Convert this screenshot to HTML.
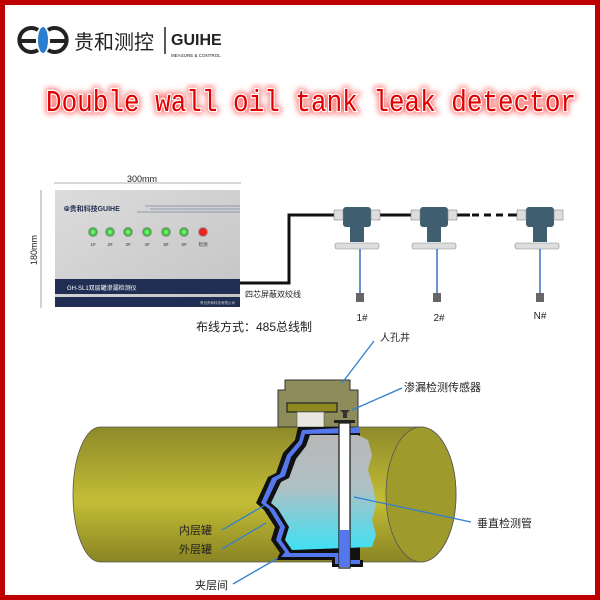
<!DOCTYPE html>
<html><head><meta charset="utf-8"><style>
body{margin:0;width:600px;height:600px;overflow:hidden;background:#fff}
svg{display:block}
text{font-family:"Liberation Sans","Noto Sans CJK SC",sans-serif}
text.ttl{font-family:"Liberation Mono",monospace}
</style></head><body>
<svg width="600" height="600" viewBox="0 0 600 600" xmlns="http://www.w3.org/2000/svg">
<defs>
<linearGradient id="tank" x1="0" y1="0" x2="0" y2="1">
<stop offset="0" stop-color="#8e8a2a"/><stop offset="0.55" stop-color="#c3bd35"/><stop offset="1" stop-color="#8a8424"/></linearGradient>
<linearGradient id="liq" x1="0" y1="0" x2="0" y2="1">
<stop offset="0" stop-color="#b8b8b8"/><stop offset="0.45" stop-color="#b0c0c4"/><stop offset="1" stop-color="#3fe0f4"/></linearGradient>
<linearGradient id="panel" x1="0" y1="0" x2="1" y2="1">
<stop offset="0" stop-color="#dcdcdc"/><stop offset="1" stop-color="#c4c4c4"/></linearGradient>
<filter id="glow"><feGaussianBlur stdDeviation="3"/></filter>
<radialGradient id="led"><stop offset="0" stop-color="#9f9"/><stop offset="1" stop-color="#1a1"/></radialGradient>
</defs>
<rect x="0" y="0" width="600" height="600" fill="#c00000"/>
<rect x="5" y="5" width="590" height="590" fill="#fff"/>
<!-- logo -->
<g fill="none" stroke="#222" stroke-width="4">
<path d="M38 30 A12 12 0 1 0 38 50"/>
<path d="M48 30 A12 12 0 1 1 48 50"/>
<line x1="19" y1="41" x2="36" y2="41"/><line x1="50" y1="41" x2="66" y2="41"/>
</g>
<ellipse cx="43" cy="40" rx="5" ry="13" fill="#2a7fd0"/>
<text x="74" y="49" font-size="20" fill="#222">贵和测控</text>
<line x1="165" y1="27" x2="165" y2="54" stroke="#222" stroke-width="1.5"/>
<text x="171" y="45" font-size="16" font-weight="bold" fill="#222">GUIHE</text>
<text x="171" y="57" font-size="4.5" fill="#222">MEASURE &amp; CONTROL</text>
<!-- title -->
<text class="ttl" x="46" y="111" textLength="530" lengthAdjust="spacingAndGlyphs" font-size="31" fill="#ff6666" filter="url(#glow)" stroke="#ff8080" stroke-width="6">Double wall oil tank leak detector</text>
<text class="ttl" x="46" y="111" textLength="530" lengthAdjust="spacingAndGlyphs" font-size="31" fill="#e00000" stroke="#fff" stroke-width="2.5" paint-order="stroke">Double wall oil tank leak detector</text>
<!-- controller -->
<text x="142" y="182" text-anchor="middle" font-size="9" fill="#222">300mm</text>
<line x1="54" y1="183" x2="241" y2="183" stroke="#666" stroke-width="0.6"/>
<line x1="41" y1="190" x2="41" y2="308" stroke="#666" stroke-width="0.6"/>
<text x="37" y="250" font-size="9" fill="#222" transform="rotate(-90 37 250)" text-anchor="middle">180mm</text>
<rect x="55" y="190" width="185" height="117" fill="url(#panel)"/>
<rect x="55" y="279" width="185" height="15" fill="#1f2e52"/>
<rect x="55" y="297" width="185" height="10" fill="#1f2e52"/>
<text x="67" y="290" font-size="6" fill="#fff">GH-SL1双层罐渗漏检测仪</text>
<text x="235" y="304" font-size="3.5" fill="#ccc" text-anchor="end">青岛贵和科技有限公司</text>
<text x="64" y="211" font-size="7" fill="#1f2e52" font-weight="bold">⦾贵和科技GUIHE</text>
<g stroke="#7a86a0" stroke-width="0.8"><line x1="145" y1="206" x2="240" y2="206"/><line x1="150" y1="209" x2="240" y2="209"/><line x1="137" y1="212" x2="240" y2="212"/></g>
<g>
<circle cx="93" cy="232" r="4.5" fill="url(#led)" stroke="#999"/>
<circle cx="110" cy="232" r="4.5" fill="url(#led)" stroke="#999"/>
<circle cx="128" cy="232" r="4.5" fill="url(#led)" stroke="#999"/>
<circle cx="147" cy="232" r="4.5" fill="url(#led)" stroke="#999"/>
<circle cx="166" cy="232" r="4.5" fill="url(#led)" stroke="#999"/>
<circle cx="184" cy="232" r="4.5" fill="url(#led)" stroke="#999"/>
<circle cx="203" cy="232" r="4.5" fill="#e22" stroke="#999"/>
</g>
<g font-size="4.5" fill="#333" text-anchor="middle"><text x="93" y="246">1#</text><text x="110" y="246">2#</text><text x="128" y="246">3#</text><text x="147" y="246">4#</text><text x="166" y="246">5#</text><text x="184" y="246">6#</text><text x="203" y="246">检测</text></g>
<!-- cable -->
<path d="M240 283 H289 V215 H520" fill="none" stroke="#111" stroke-width="3"/>
<line x1="470" y1="215" x2="515" y2="215" stroke="#fff" stroke-width="4"/>
<line x1="472" y1="215" x2="515" y2="215" stroke="#111" stroke-width="3" stroke-dasharray="7,5"/>
<text x="245" y="297" font-size="8" fill="#222">四芯屏蔽双绞线</text>
<g fill="#3f5f70">
<rect x="343" y="207" width="28" height="20" rx="3"/><rect x="350" y="226" width="14" height="16"/>
<rect x="420" y="207" width="28" height="20" rx="3"/><rect x="427" y="226" width="14" height="16"/>
<rect x="526" y="207" width="28" height="20" rx="3"/><rect x="533" y="226" width="14" height="16"/>
</g>
<g fill="#ddd" stroke="#888" stroke-width="0.6">
<rect x="334" y="210" width="9" height="10"/><rect x="371" y="210" width="9" height="10"/>
<rect x="411" y="210" width="9" height="10"/><rect x="448" y="210" width="9" height="10"/>
<rect x="517" y="210" width="9" height="10"/><rect x="554" y="210" width="9" height="10"/>
<rect x="335" y="243" width="44" height="6" rx="2"/><rect x="412" y="243" width="44" height="6" rx="2"/><rect x="515" y="243" width="44" height="6" rx="2"/>
</g>
<g stroke="#3a6fc0" stroke-width="1.5"><line x1="360" y1="249" x2="360" y2="293"/><line x1="437" y1="249" x2="437" y2="293"/><line x1="540" y1="249" x2="540" y2="293"/></g>
<g fill="#666"><rect x="356" y="293" width="8" height="9"/><rect x="433" y="293" width="8" height="9"/><rect x="536" y="293" width="8" height="9"/></g>
<g font-size="10" fill="#222" text-anchor="middle"><text x="362" y="321">1#</text><text x="439" y="321">2#</text><text x="540" y="319">N#</text></g>
<text x="196" y="331" font-size="12" fill="#222">布线方式：485总线制</text>
<!-- tank -->
<path d="M100 427 H421 A35 67.5 0 0 1 421 562 H100 A27 67.5 0 0 1 100 427 Z" fill="url(#tank)" stroke="#555" stroke-width="0.8"/>
<ellipse cx="421" cy="494.5" rx="35" ry="67.5" fill="#9e9a2c" stroke="#555" stroke-width="0.8"/>
<!-- manhole -->
<path d="M285 380 H350 V390 H358 V427 H278 V390 H285 Z" fill="#8d8c5a" stroke="#333" stroke-width="1"/>
<rect x="287" y="403" width="50" height="9" fill="#8d8820" stroke="#222" stroke-width="1.2"/>
<rect x="297" y="412" width="27" height="15" fill="#e8e8e0" stroke="#555" stroke-width="0.6"/>
<!-- cutout -->
<path d="M298 427 L295 440 L283 453 L276 473 L268 477 L256 503 L264 510 L275 527 L271 540 L280 553 L276 560 L332 560 L332 567 L363 567 L363 560 L360 560 L360 427 Z" fill="#111"/>
<path d="M302 430 L299 441 L287 455 L280 474 L272 478 L261 503 L269 509 L280 527 L276 540 L285 552 L281 557 L335 557 L335 564 L360 564 L360 427 Z" fill="#5577ee"/>
<path d="M305 434 L302 444 L291 457 L285 476 L277 480 L266 503 L274 509 L285 527 L281 540 L290 553 L340 553 L340 560 L360 560 L360 433 Z" fill="#111"/>
<path d="M310 435 L358 435 L368 440 L372 455 L368 470 L374 490 L376 505 L372 520 L376 535 L372 547 L292 550 L285 540 L289 527 L278 509 L271 503 L281 482 L289 478 L296 459 L306 446 Z" fill="url(#liq)"/>
<!-- tube -->
<rect x="339" y="423" width="11" height="145" fill="#fff" stroke="#222" stroke-width="1.3"/>
<rect x="340" y="530" width="9" height="37" fill="#5577ee"/>
<rect x="334" y="420" width="21" height="3" fill="#222"/>
<path d="M340 410 h10 l-3 3 v5 h-4 v-5 Z" fill="#333"/>
<!-- labels -->
<g stroke="#2f7fd4" stroke-width="1.3" fill="none">
<line x1="374" y1="341" x2="342" y2="383"/>
<line x1="402" y1="388" x2="352" y2="410"/>
<line x1="471" y1="522" x2="354" y2="497"/>
<line x1="222" y1="530" x2="265" y2="505"/>
<line x1="222" y1="549" x2="266" y2="523"/>
<line x1="233" y1="584" x2="278" y2="558"/>
</g>
<text x="380" y="341" font-size="10" fill="#222">人孔井</text>
<text x="404" y="391" font-size="11" fill="#222">渗漏检测传感器</text>
<text x="477" y="527" font-size="11" fill="#222">垂直检测管</text>
<text x="179" y="534" font-size="11" fill="#222">内层罐</text>
<text x="179" y="553" font-size="11" fill="#222">外层罐</text>
<text x="195" y="589" font-size="11" fill="#222">夹层间</text>
</svg>
</body></html>
